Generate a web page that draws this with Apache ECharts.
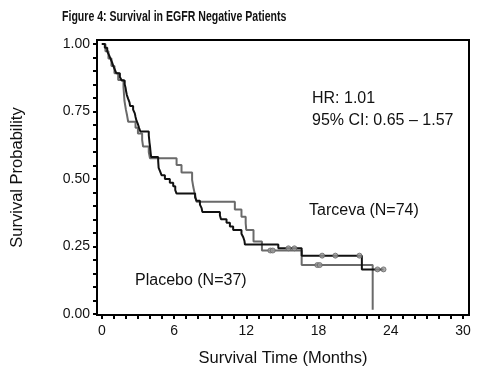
<!DOCTYPE html>
<html>
<head>
<meta charset="utf-8">
<script src="https://cdn.jsdelivr.net/npm/echarts@6/dist/echarts.min.js"></script>
<style>
html,body{margin:0;padding:0;background:#fff;}
#chart{width:480px;height:375px;}
</style>
</head>
<body>
<div id="chart"></div>
<script>
// ---- data ----
const chartTitle = 'Figure 4: Survival in EGFR Negative Patients';
const xTickLabels = [0, 6, 12, 18, 24, 30];
const xMinorTicks = Array.from({length: 31}, (_, i) => i);
const yTickLabels = [0, 0.25, 0.5, 0.75, 1.0];
const yMinorTicks = [0,0.05,0.1,0.15,0.2,0.25,0.3,0.35,0.4,0.45,0.5,0.55,0.6,0.65,0.7,0.75,0.8,0.85,0.9,0.95,1.0];

// Tarceva (N=74): event times (months) and survival after each step
const tarcevaT = [0,0.25,0.45,0.6,0.72,0.85,0.95,1.08,1.2,1.5,1.65,1.9,1.97,2.02,2.08,2.19,2.3,2.35,2.6,2.74,2.8,2.88,3.0,3.1,3.2,3.9,3.93,3.96,4.0,4.03,4.06,4.1,4.68,4.7,4.72,4.85,4.96,5.24,5.65,5.93,6.1,6.21,7.75,7.87,8.15,8.29,8.35,9.81,9.9,10.36,10.64,10.91,11.6,11.75,11.85,11.89,14.66,16.6,21.6,23.4];
const tarcevaS = [1.0,0.986,0.973,0.959,0.946,0.932,0.919,0.905,0.892,0.878,0.865,0.851,0.838,0.824,0.811,0.797,0.784,0.770,0.757,0.743,0.730,0.716,0.703,0.689,0.676,0.662,0.649,0.635,0.622,0.608,0.595,0.581,0.568,0.554,0.541,0.527,0.514,0.500,0.486,0.473,0.459,0.446,0.432,0.419,0.405,0.392,0.378,0.365,0.351,0.338,0.324,0.311,0.297,0.284,0.270,0.257,0.243,0.216,0.165,0.165];
const tarcevaCensor = [15.5, 16.0, 18.3, 19.4, 21.4, 22.9, 23.4];

// Placebo (N=37)
const placeboT = [0,0.3,0.55,0.8,1.05,1.36,1.8,1.84,1.88,2.0,2.1,2.19,2.8,3.0,3.35,3.43,3.9,4.0,6.21,6.62,7.5,7.6,7.73,7.87,11.05,11.6,11.95,12.0,12.6,13.3,16.6,22.5];
const placeboS = [1.0,0.973,0.946,0.919,0.892,0.867,0.84,0.815,0.79,0.757,0.735,0.712,0.69,0.669,0.645,0.62,0.6,0.577,0.552,0.524,0.497,0.47,0.443,0.416,0.387,0.36,0.336,0.311,0.268,0.235,0.181,0.015];
const placeboCensor = [14.0, 14.2, 17.9, 18.1];

const annotations = ['HR: 1.01', '95% CI: 0.65 \u2013 1.57', 'Tarceva (N=74)', 'Placebo (N=37)'];

// ---- build ----
function stepAt(ts, ss, t) {
  let s = ss[0];
  for (let i = 0; i < ts.length; i++) if (ts[i] <= t) s = ss[i];
  return s;
}
const zip = (a, b) => a.map((v, i) => [v, b[i]]);
const censorPts = (c, ts, ss) => c.map(t => [t, stepAt(ts, ss, t)]);

const FONT = '"Liberation Sans", Arial, Helvetica, sans-serif';
const chart = echarts.init(document.getElementById('chart'), null, {renderer: 'canvas'});
chart.setOption({
  animation: false,
  backgroundColor: '#fff',
  grid: {left: 97, right: 11, top: 40, bottom: 60, show: true, borderColor: '#000', borderWidth: 2, backgroundColor: 'transparent'},
  xAxis: {
    type: 'value', min: -0.4, max: 30.5,
    axisLine: {onZero: false, lineStyle: {color: '#000', width: 2}},
    axisTick: {show: true, customValues: xMinorTicks, length: 4, lineStyle: {color: '#000', width: 2}},
    axisLabel: {customValues: xTickLabels, margin: 9, fontFamily: FONT, fontSize: 14, color: '#111'},
    splitLine: {show: false},
    name: 'Survival Time (Months)', nameLocation: 'middle', nameGap: 35,
    nameTextStyle: {fontFamily: FONT, fontSize: 16.5, color: '#111'}
  },
  yAxis: {
    type: 'value', min: -0.004, max: 1.015,
    axisLine: {onZero: false, lineStyle: {color: '#000', width: 2}},
    axisTick: {show: true, customValues: yMinorTicks, length: 4, lineStyle: {color: '#000', width: 2}},
    axisLabel: {customValues: yTickLabels, margin: 7, fontFamily: FONT, fontSize: 14, color: '#111', formatter: v => v.toFixed(2)},
    splitLine: {show: false},
    name: 'Survival Probability', nameLocation: 'middle', nameGap: 71, nameRotate: 90,
    nameTextStyle: {fontFamily: FONT, fontSize: 16.5, color: '#111'}
  },
  series: [
    {name: 'Placebo', type: 'line', step: 'end', data: zip(placeboT, placeboS), showSymbol: false,
      lineStyle: {color: '#6a6a6a', width: 2}, z: 2},
    {name: 'Tarceva', type: 'line', step: 'end', data: zip(tarcevaT, tarcevaS), showSymbol: false,
      lineStyle: {color: '#111', width: 2}, z: 3},
    {name: 'Placebo censored', type: 'scatter', data: censorPts(placeboCensor, placeboT, placeboS),
      symbol: 'circle', symbolSize: 5, itemStyle: {color: '#999', borderColor: '#666', borderWidth: 1}, z: 4},
    {name: 'Tarceva censored', type: 'scatter', data: censorPts(tarcevaCensor, tarcevaT, tarcevaS),
      symbol: 'circle', symbolSize: 5, itemStyle: {color: '#999', borderColor: '#666', borderWidth: 1}, z: 4}
  ],
  graphic: [
    {type: 'text', x: 62, y: 10, scaleX: 0.755, style: {text: chartTitle, font: 'bold 14px ' + FONT, fill: '#111', textVerticalAlign: 'top'}},
    {type: 'text', left: 312, top: 91, style: {text: annotations[0], font: '16px ' + FONT, fill: '#111'}},
    {type: 'text', left: 312, top: 113, style: {text: annotations[1], font: '16px ' + FONT, fill: '#111'}},
    {type: 'text', left: 309, top: 203, style: {text: annotations[2], font: '16px ' + FONT, fill: '#111'}},
    {type: 'text', left: 135, top: 273, style: {text: annotations[3], font: '16px ' + FONT, fill: '#111'}}
  ]
});
</script>
</body>
</html>
